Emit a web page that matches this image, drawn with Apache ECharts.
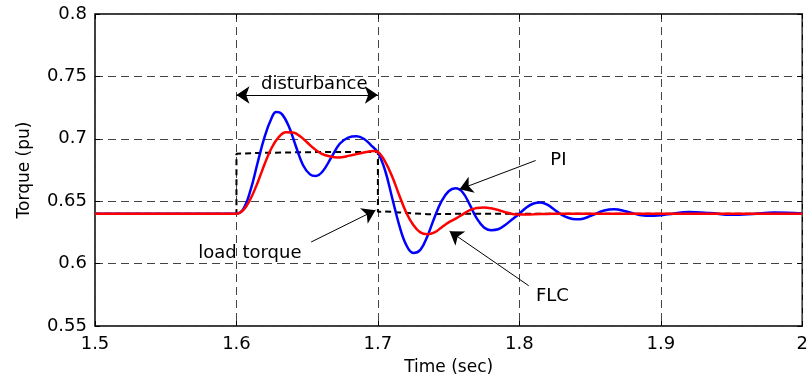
<!DOCTYPE html>
<html>
<head>
<meta charset="utf-8">
<script src="https://cdn.jsdelivr.net/npm/echarts@6/dist/echarts.min.js"></script>
<style>
  html, body { margin: 0; padding: 0; background: #fff; }
  #chart { width: 811px; height: 381px; }
</style>
</head>
<body>
<div id="chart"></div>
<script>
// axis ranges
const xTicks = [1.5, 1.6, 1.7, 1.8, 1.9, 2.0];
const yTicks = [0.55, 0.6, 0.65, 0.7, 0.75, 0.8];

// load torque (black dashed)
const loadT = [1.5, 1.6, 1.6, 1.62, 1.65, 1.68, 1.7, 1.7, 1.705, 1.715, 1.725, 1.735, 1.75, 1.77, 2.0];
const loadV = [0.64, 0.64, 0.688, 0.6888, 0.6893, 0.6895, 0.6895, 0.6415, 0.6418, 0.641, 0.6402, 0.6396, 0.6398, 0.64, 0.64];

// PI response (blue)
const piT = [1.5, 1.6, 1.605, 1.61, 1.615, 1.62, 1.625, 1.628, 1.632, 1.637, 1.642, 1.647, 1.652, 1.656, 1.661, 1.667, 1.673, 1.679, 1.685, 1.69, 1.695, 1.7,
  1.705, 1.71, 1.715, 1.72, 1.725, 1.73, 1.735, 1.74, 1.745, 1.75, 1.755, 1.76, 1.765, 1.77, 1.775, 1.78, 1.785, 1.79, 1.795, 1.8,
  1.805, 1.81, 1.815, 1.82, 1.825, 1.83, 1.835, 1.84, 1.845, 1.85, 1.86, 1.867, 1.875, 1.885, 1.895, 1.905, 1.92, 1.935, 1.95, 1.965, 1.98, 2.0];
const piV = [0.64, 0.64, 0.644, 0.659, 0.681, 0.702, 0.717, 0.7215, 0.72, 0.71, 0.694, 0.679, 0.6715, 0.6702, 0.674, 0.685, 0.696, 0.701, 0.702, 0.7, 0.695, 0.689,
  0.675, 0.653, 0.631, 0.615, 0.6085, 0.611, 0.622, 0.637, 0.65, 0.658, 0.6603, 0.657, 0.647, 0.636, 0.629, 0.6268, 0.6275, 0.631, 0.6355, 0.64,
  0.645, 0.6482, 0.649, 0.647, 0.643, 0.639, 0.6365, 0.6355, 0.636, 0.638, 0.6425, 0.6436, 0.642, 0.639, 0.6383, 0.6395, 0.6414, 0.6405, 0.6391, 0.6398, 0.641, 0.6402];

// FLC response (red)
const flcT = [1.5, 1.6, 1.605, 1.61, 1.615, 1.62, 1.625, 1.63, 1.635, 1.64, 1.645, 1.65, 1.655, 1.66, 1.665, 1.672, 1.68, 1.69, 1.697, 1.7,
  1.705, 1.71, 1.715, 1.72, 1.725, 1.73, 1.735, 1.74, 1.745, 1.75, 1.755, 1.76, 1.765, 1.77, 1.775, 1.78, 1.785, 1.79, 1.795, 1.8,
  1.81, 1.82, 1.83, 2.0];
const flcV = [0.64, 0.64, 0.643, 0.652, 0.665, 0.68, 0.693, 0.7015, 0.7052, 0.705, 0.702, 0.697, 0.692, 0.6882, 0.6862, 0.685, 0.6865, 0.689, 0.6902, 0.6895,
  0.682, 0.67, 0.655, 0.641, 0.631, 0.625, 0.6236, 0.625, 0.629, 0.633, 0.636, 0.6395, 0.6428, 0.6445, 0.6449, 0.6443, 0.643, 0.6412, 0.6398, 0.6393,
  0.6395, 0.6398, 0.64, 0.64];

// annotation texts [t, v, text]
const notes = [
  [1.655, 0.7435, 'disturbance'],
  [1.8276, 0.6826, 'PI'],
  [1.8234, 0.5735, 'FLC'],
  [1.6095, 0.6085, 'load torque']
];
// annotation arrows [[t0, v0], [t1, v1], double-headed]
const arrows = [
  [[1.6, 0.7351], [1.7, 0.7351], true],
  [[1.8115, 0.6826], [1.7577, 0.6595], false],
  [[1.8066, 0.5823], [1.7507, 0.626], false],
  [[1.6528, 0.6173], [1.6983, 0.6428], false]
];

const zip = (t, v) => t.map((x, i) => [x, v[i]]);
const FONT = 'DejaVu Sans';

const chart = echarts.init(document.getElementById('chart'));

const gridLine = { show: true, lineStyle: { color: '#444', type: [8, 5], width: 1 } };
const innerTick = { show: true, inside: true, length: 5, lineStyle: { color: '#000' } };

const option = {
  animation: false,
  backgroundColor: '#fff',
  grid: { left: 95, right: 2, top: 14, bottom: 53, show: true, borderColor: '#000', borderWidth: 1.5 },
  xAxis: [
    {
      type: 'value', min: xTicks[0], max: xTicks[xTicks.length - 1], interval: 0.1,
      name: 'Time (sec)', nameLocation: 'middle', nameGap: 33,
      nameTextStyle: { fontFamily: FONT, fontSize: 17, color: '#000' },
      axisLine: { show: false },
      axisTick: innerTick,
      axisLabel: { fontFamily: FONT, fontSize: 18, color: '#000', margin: 9 },
      splitLine: gridLine
    },
    {
      type: 'value', position: 'top', min: xTicks[0], max: xTicks[xTicks.length - 1], interval: 0.1,
      axisLine: { show: false }, axisLabel: { show: false }, splitLine: { show: false },
      axisTick: innerTick
    }
  ],
  yAxis: [
    {
      type: 'value', min: yTicks[0], max: yTicks[yTicks.length - 1], interval: 0.05,
      name: 'Torque (pu)', nameLocation: 'middle', nameGap: 62,
      nameTextStyle: { fontFamily: FONT, fontSize: 17, color: '#000' },
      axisLine: { show: false },
      axisTick: innerTick,
      axisLabel: { fontFamily: FONT, fontSize: 18, color: '#000', margin: 8 },
      splitLine: gridLine
    },
    {
      type: 'value', position: 'right', min: yTicks[0], max: yTicks[yTicks.length - 1], interval: 0.05,
      axisLine: { show: false }, axisLabel: { show: false }, splitLine: { show: false },
      axisTick: innerTick
    }
  ],
  series: [
    {
      name: 'load torque', type: 'line', data: zip(loadT, loadV), showSymbol: false,
      lineStyle: { color: '#000', width: 2, type: [6, 4] }, z: 2
    },
    {
      name: 'PI', type: 'line', data: zip(piT, piV), showSymbol: false, smooth: 0.4,
      lineStyle: { color: '#0000ff', width: 2.5 }, z: 3
    },
    {
      name: 'FLC', type: 'line', data: zip(flcT, flcV), showSymbol: false, smooth: 0.4,
      lineStyle: { color: '#ff0000', width: 2.5 }, z: 4
    },
    {
      name: 'arrows', type: 'line', data: [], silent: true,
      markLine: {
        silent: true,
        symbolSize: 13,
        label: { show: false },
        lineStyle: { color: '#000', width: 1, type: 'solid' },
        data: arrows.map(a => [
          { coord: a[0], symbol: a[2] ? 'arrow' : 'none' },
          { coord: a[1], symbol: 'arrow' }
        ])
      },
      z: 5
    },
    {
      name: 'notes', type: 'scatter', symbolSize: 0, silent: true,
      data: notes,
      label: {
        show: true, position: 'inside', formatter: p => p.data[2],
        fontFamily: FONT, fontSize: 18, color: '#000', textBorderWidth: 0, opacity: 1
      },
      z: 6
    }
  ]
};

chart.setOption(option);
</script>
</body>
</html>
